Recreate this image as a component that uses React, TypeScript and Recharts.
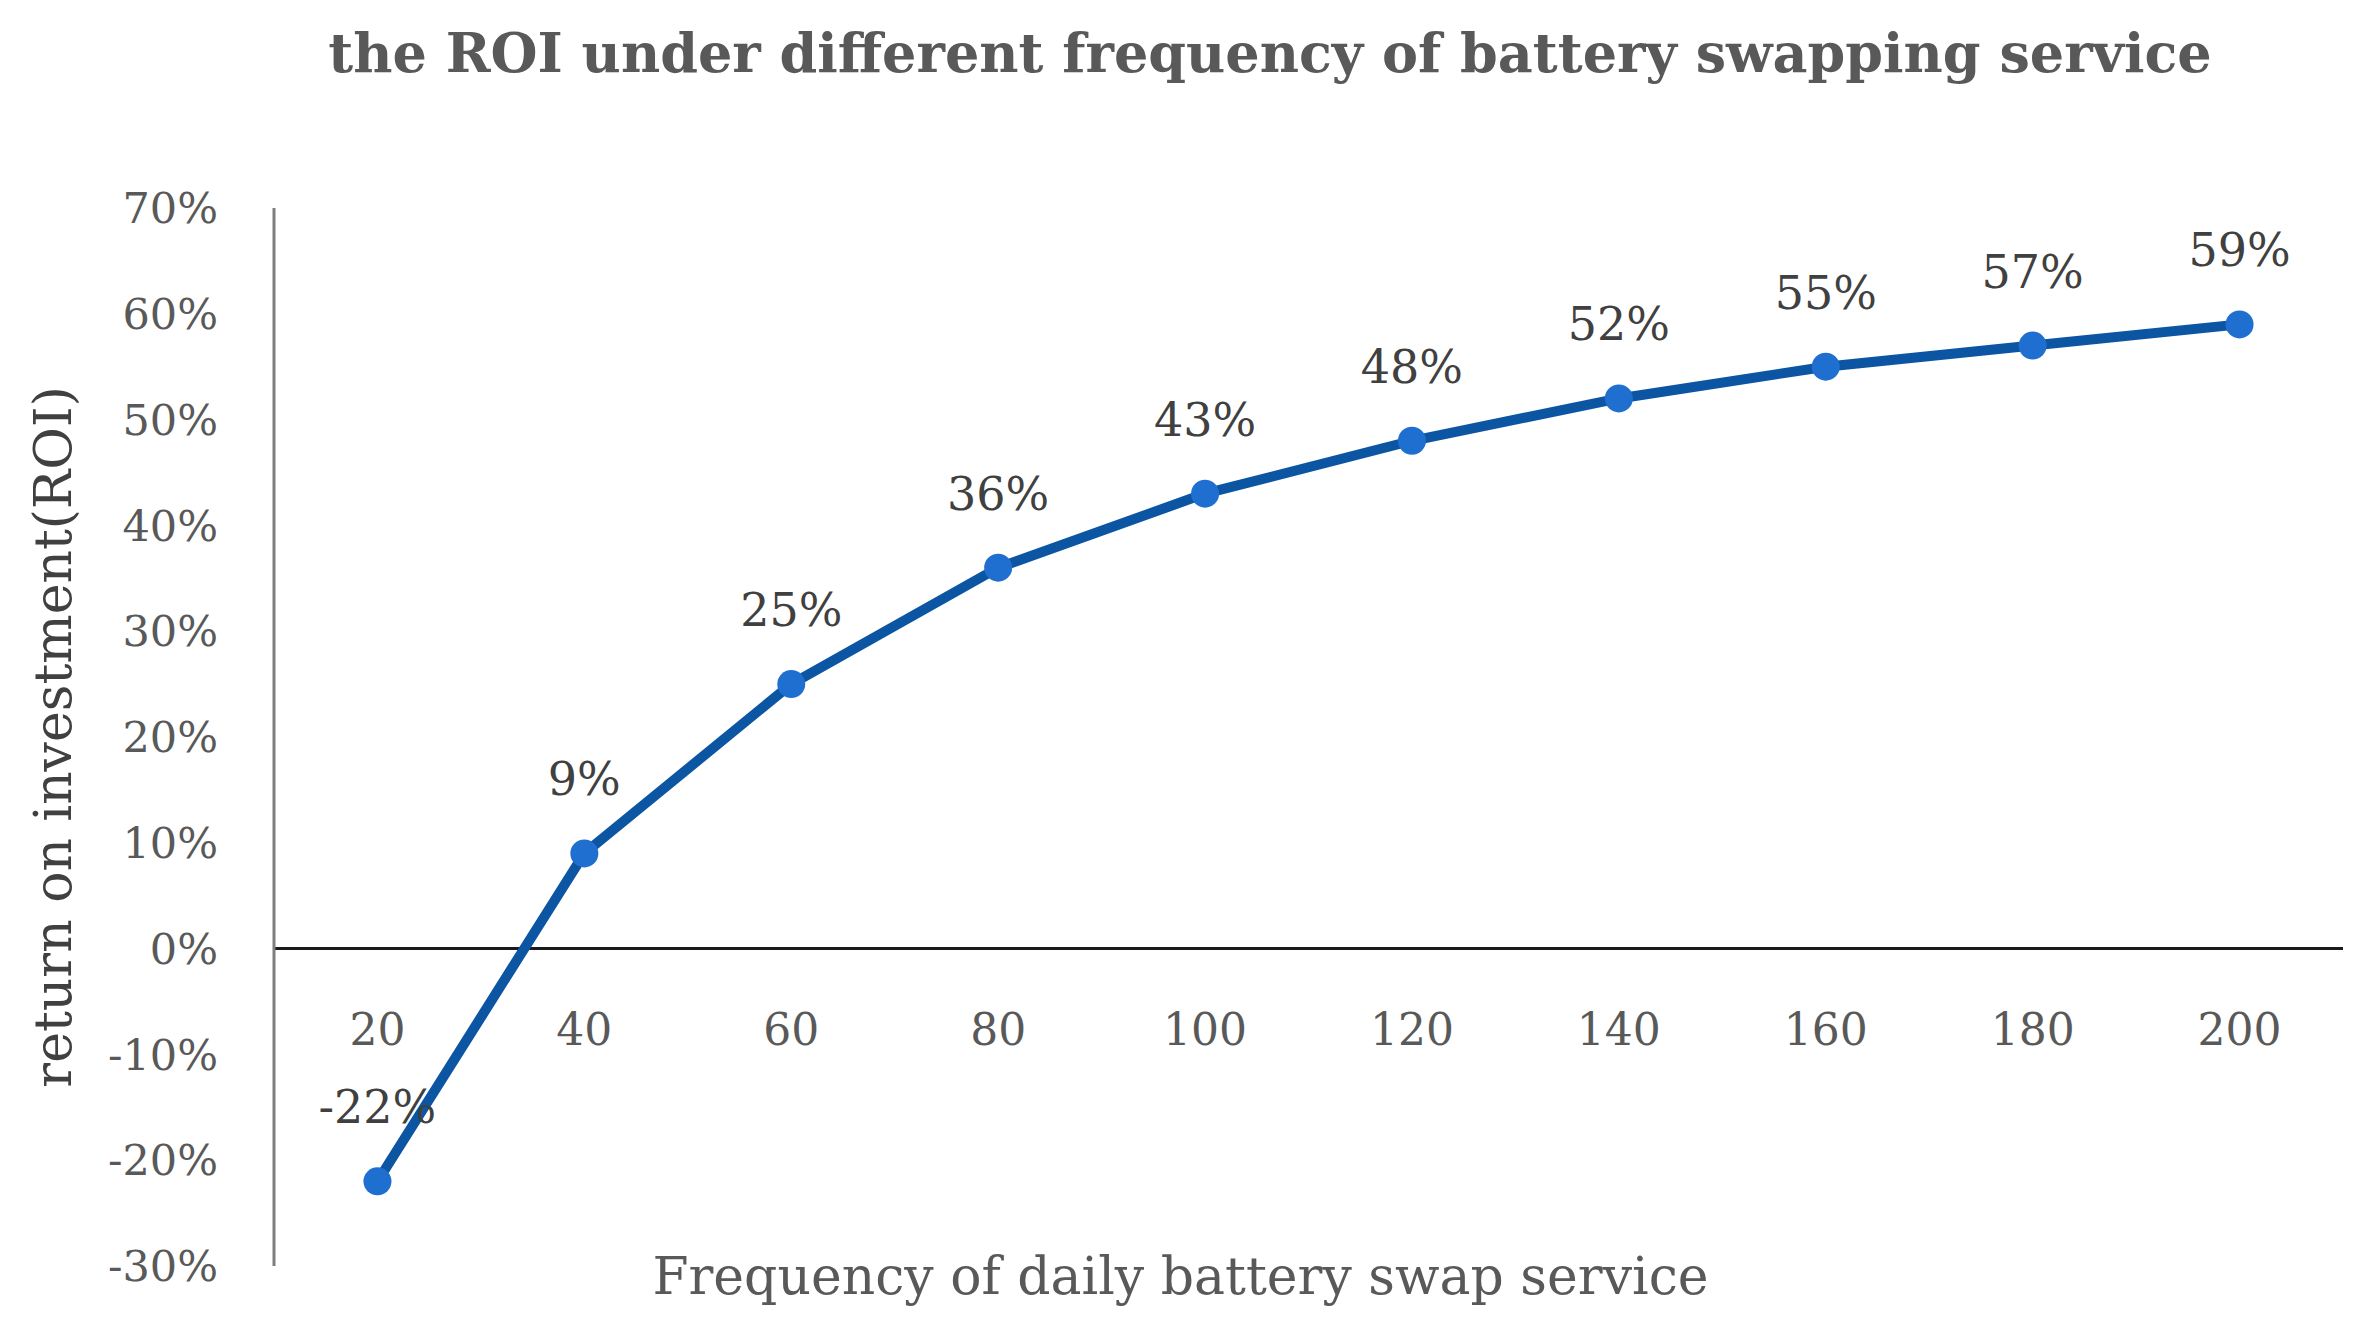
import React from 'react';
import { LineChart, Line, XAxis, YAxis, ReferenceLine, LabelList } from 'recharts';

const categories = ['20', '40', '60', '80', '100', '120', '140', '160', '180', '200'];
const roiValues = [-22, 9, 25, 36, 43, 48, 52, 55, 57, 59];
const yTicks = [-30, -20, -10, 0, 10, 20, 30, 40, 50, 60, 70];

const chartTitle = 'the ROI under different frequency of battery swapping service';
const xTitle = 'Frequency of daily battery swap service';
const yTitle = 'return on investment(ROI)';

const data = categories.map((c, i) => ({ freq: c, roi: roiValues[i] }));

const FONT = '"DejaVu Serif", serif';

const XTick = (props: any) => {
  const { x, y, payload } = props;
  return (
    <text x={x} y={y - 237} textAnchor="middle" dominantBaseline="central" fill="#595959" fontSize={44} fontFamily={FONT}>
      {payload.value}
    </text>
  );
};

const YTitle = (props: any) => {
  const vb = props.viewBox || {};
  const cx = vb.x + 53;
  const cy = vb.y + vb.height / 2;
  return (
    <text x={cx} y={cy} transform={`rotate(-90, ${cx}, ${cy})`} textAnchor="middle" dominantBaseline="central" fill="#404040" fontSize={52} fontFamily={FONT}>
      {yTitle}
    </text>
  );
};

const XTitle = (props: any) => {
  const vb = props.viewBox || {};
  const cx = vb.x + vb.width / 2 - 128;
  const cy = vb.y + 10;
  return (
    <text x={cx} y={cy} textAnchor="middle" dominantBaseline="central" fill="#595959" fontSize={52} fontFamily={FONT}>
      {xTitle}
    </text>
  );
};

export default function App() {
  return (
    <div style={{ position: 'absolute', left: 0, top: 0, width: 2362, height: 1335, background: '#ffffff' }}>
      <div
        style={{
          position: 'absolute',
          left: 1270,
          top: 53,
          transform: 'translate(-50%, -50%)',
          whiteSpace: 'nowrap',
          fontFamily: FONT,
          fontWeight: 'bold',
          fontSize: 54,
          color: '#595959',
        }}
      >
        {chartTitle}
      </div>
      <LineChart width={2362} height={1335} data={data} margin={{ top: 208, right: 19, bottom: 0, left: 0 }}>
        <XAxis
          dataKey="freq"
          type="category"
          scale="band"
          height={69}
          axisLine={false}
          tickLine={false}
          tickSize={0}
          tickMargin={0}
          tick={<XTick />}
          interval={0}
          label={{ content: <XTitle /> }}
        />
        <YAxis
          type="number"
          domain={[-30, 70]}
          ticks={yTicks}
          interval={0}
          width={274}
          axisLine={{ stroke: '#7f7f7f', strokeWidth: 3 }}
          tickLine={false}
          tickSize={0}
          tickMargin={56}
          tickFormatter={(v: number) => `${v}%`}
          tick={{ fill: '#595959', fontSize: 43, fontFamily: FONT }}
          label={{ content: <YTitle /> }}
        />
        <ReferenceLine y={0} stroke="#1a1a1a" strokeWidth={3} />
        <Line
          dataKey="roi"
          type="linear"
          stroke="#0B55A3"
          strokeWidth={10}
          dot={{ r: 14, fill: '#1F6FD0', stroke: 'none', strokeWidth: 0 }}
          activeDot={false}
          isAnimationActive={false}
        >
          <LabelList
            dataKey="roi"
            position="top"
            offset={58}
            formatter={(v: number) => `${v}%`}
            fill="#404040"
            fontSize={46}
            fontFamily={FONT}
          />
        </Line>
      </LineChart>
    </div>
  );
}
